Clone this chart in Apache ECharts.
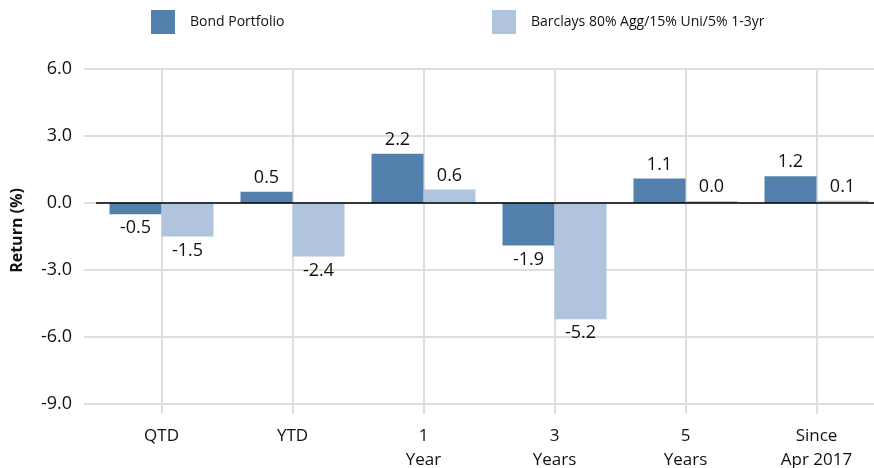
<!DOCTYPE html>
<html>
<head>
<meta charset="utf-8">
<script src="https://cdn.jsdelivr.net/npm/echarts@6/dist/echarts.min.js"></script>
<style>
  html, body { margin: 0; padding: 0; background: #ffffff; }
  #chart { width: 874px; height: 468px; }
</style>
</head>
<body>
<div id="chart"></div>
<script>
// Period labels along the horizontal axis
const categories = ['QTD', 'YTD', '1\nYear', '3\nYears', '5\nYears', 'Since\nApr 2017'];
// Returns in percent
const portfolioReturns = [-0.5, 0.5, 2.2, -1.9, 1.1, 1.2];
const benchmarkReturns = [-1.5, -2.4, 0.6, -5.2, 0.0, 0.1];
const seriesNames = ['Bond Portfolio', 'Barclays 80% Agg/15% Uni/5% 1-3yr'];
// Value axis ticks
const yTicks = [-9, -6, -3, 0, 3, 6];

const DARK = '#527fab';
const LIGHT = '#b0c4de';
const GRID = '#dedede';
const FONT = '"Open Sans", "Noto Sans", sans-serif';

// Labels sit above positive bars and below negative ones
function withLabels(values) {
  return values.map(v => ({
    value: v,
    label: { position: v >= 0 ? 'top' : 'bottom' }
  }));
}

function barSeries(name, values, color, extra) {
  return Object.assign({
    name: name,
    type: 'bar',
    data: withLabels(values),
    barWidth: 52,
    barGap: '0%',
    barMinHeight: 2,
    itemStyle: { color: color },
    label: {
      show: true,
      distance: 5,
      color: '#111111',
      fontFamily: FONT,
      fontSize: 18,
      formatter: p => p.value.toFixed(1)
    }
  }, extra || {});
}

function legendAt(name, left) {
  return {
    data: [name],
    left: left, top: 10,
    padding: 0,
    itemWidth: 24, itemHeight: 24,
    icon: 'rect',
    textStyle: { fontFamily: FONT, fontSize: 14, color: '#111111', padding: [0, 0, 0, 10] }
  };
}

const chart = echarts.init(document.getElementById('chart'), null, { renderer: 'canvas' });

chart.setOption({
  animation: false,
  backgroundColor: '#ffffff',
  legend: [legendAt(seriesNames[0], 151), legendAt(seriesNames[1], 492)],
  grid: { left: 96, right: -8, top: 69, bottom: 64, containLabel: false, outerBoundsMode: 'none' },
  xAxis: {
    type: 'category',
    data: categories,
    boundaryGap: true,
    axisLine: { show: false, onZero: false },
    axisTick: { show: true, alignWithLabel: true, length: 10, lineStyle: { color: GRID, width: 2 } },
    splitLine: { show: true, alignWithLabel: true, lineStyle: { color: GRID, width: 2 } },
    axisLabel: {
      margin: 20,
      fontFamily: FONT,
      fontSize: 17,
      color: '#111111',
      lineHeight: 24,
      interval: 0
    }
  },
  yAxis: {
    type: 'value',
    min: yTicks[0],
    max: yTicks[yTicks.length - 1],
    interval: 3,
    name: 'Return (%)',
    nameLocation: 'middle',
    nameGap: 71,
    nameTextStyle: { fontFamily: FONT, fontSize: 16, fontWeight: 'bold', color: '#111111', padding: [0, 0, 0, 12] },
    axisLine: { show: false },
    axisTick: { show: true, length: 12, lineStyle: { color: GRID, width: 2 } },
    splitLine: { show: true, lineStyle: { color: GRID, width: 2 } },
    axisLabel: {
      margin: 24,
      fontFamily: FONT,
      fontSize: 18,
      color: '#111111',
      formatter: v => v.toFixed(1)
    }
  },
  series: [
    barSeries(seriesNames[0], portfolioReturns, DARK, {
      markLine: {
        silent: true,
        symbol: 'none',
        label: { show: false },
        lineStyle: { color: '#000000', width: 1.5, type: 'solid' },
        data: [{ yAxis: 0 }]
      }
    }),
    barSeries(seriesNames[1], benchmarkReturns, LIGHT)
  ]
});
</script>
</body>
</html>
